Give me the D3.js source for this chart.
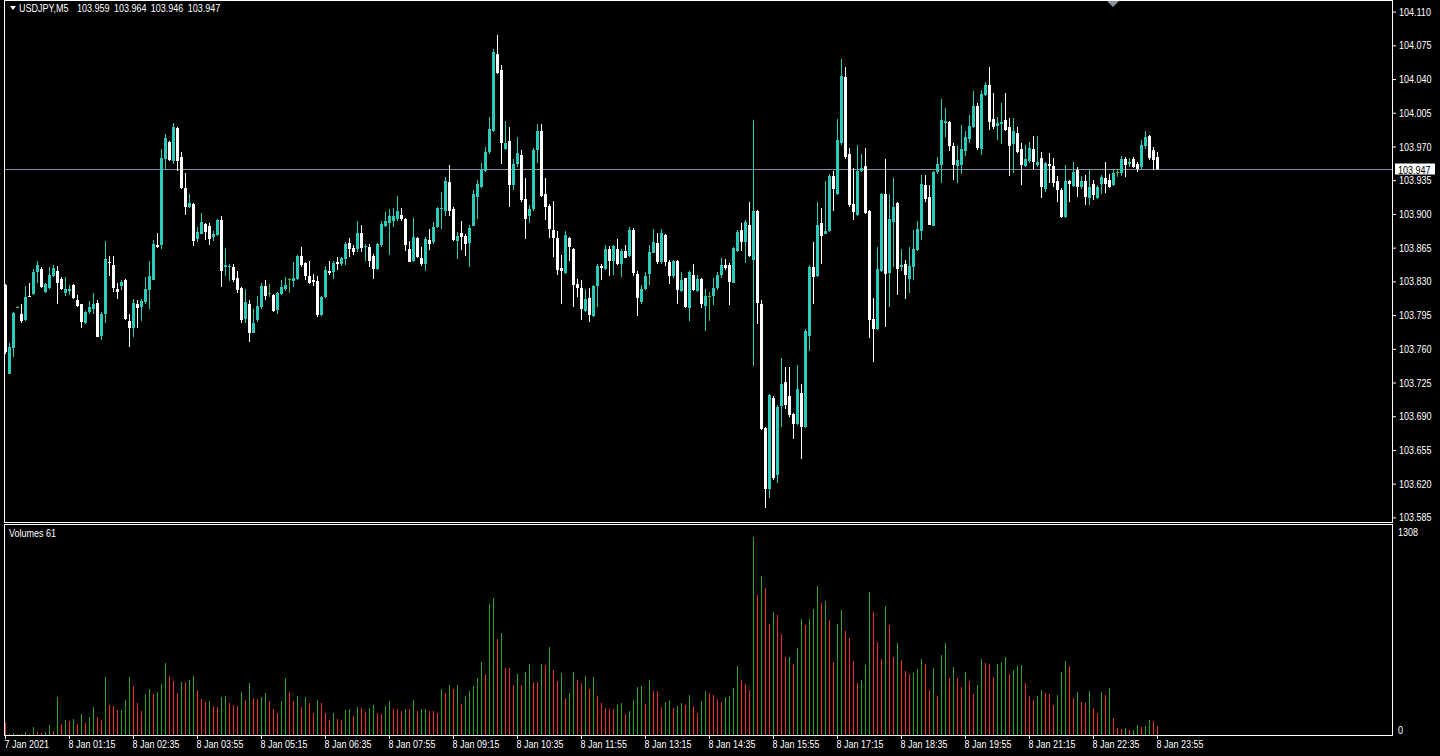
<!DOCTYPE html>
<meta charset="utf-8">
<style>
body { margin: 0; background: #000; }
svg { display: block; }
text { font-family: "Liberation Sans", Arial, sans-serif; font-size: 11px; fill: #fff; }
.tick line { stroke: #fff; }
</style>
<body>
<script src="https://d3js.org/d3.v7.min.js"></script>
<script>

// USDJPY M5, one bar per 5 minutes from 7 Jan 23:55 to 8 Jan 23:55
const symbol = "USDJPY,M5";

const open = [
103.826,103.734,103.761,103.803,103.796,103.790,103.815,103.817,103.840,103.843,
103.819,103.823,103.836,103.841,103.832,103.818,103.820,103.826,103.811,103.806,
103.787,103.798,103.802,103.808,103.773,103.796,103.850,103.847,103.822,103.825,
103.831,103.789,103.782,103.807,103.804,103.808,103.821,103.832,103.868,103.868,
103.957,103.975,103.955,103.989,103.959,103.927,103.907,103.910,103.874,103.880,
103.890,103.887,103.876,103.878,103.894,103.845,103.845,103.845,103.834,103.823,
103.791,103.807,103.777,103.789,103.803,103.825,103.818,103.816,103.800,103.817,
103.822,103.832,103.830,103.832,103.856,103.849,103.836,103.831,103.830,103.795,
103.814,103.841,103.840,103.850,103.848,103.853,103.870,103.865,103.863,103.880,
103.866,103.866,103.856,103.843,103.868,103.888,103.891,103.893,103.895,103.899,
103.895,103.864,103.851,103.875,103.854,103.848,103.873,103.870,103.886,103.905,
103.903,103.933,103.905,103.872,103.880,103.877,103.869,103.888,103.918,103.928,
103.944,103.964,103.986,104.066,104.049,103.968,103.976,103.930,103.952,103.961,
103.916,103.898,103.905,103.966,103.986,103.921,103.908,103.883,103.875,103.844,
103.839,103.875,103.864,103.827,103.823,103.800,103.813,103.794,103.825,103.846,
103.843,103.864,103.851,103.864,103.848,103.862,103.856,103.883,103.838,103.809,
103.822,103.837,103.860,103.870,103.850,103.878,103.850,103.835,103.851,103.820,
103.833,103.803,103.837,103.820,103.832,103.805,103.815,103.815,103.823,103.837,
103.847,103.847,103.829,103.861,103.883,103.871,103.888,103.852,103.903,103.807,
103.678,103.614,103.709,103.629,103.700,103.726,103.711,103.692,103.682,103.714,
103.678,103.773,103.845,103.836,103.891,103.879,103.882,103.939,103.921,103.973,
104.042,103.962,103.910,103.899,103.945,103.950,103.903,103.791,103.781,103.841,
103.921,103.839,103.891,103.911,103.845,103.848,103.832,103.845,103.862,103.882,
103.930,103.918,103.888,103.944,103.950,103.994,103.995,103.970,103.950,103.950,
103.965,103.977,103.990,104.012,103.967,104.024,104.034,103.999,103.991,103.993,
103.997,103.990,103.972,103.984,103.967,103.950,103.955,103.967,103.951,103.958,
103.926,103.952,103.950,103.934,103.925,103.897,103.934,103.929,103.946,103.928,
103.934,103.917,103.931,103.917,103.931,103.937,103.935,103.930,103.943,103.942,
103.957,103.952,103.957,103.952,103.949,103.971,103.981,103.966,103.959
];

const high = [
103.827,103.766,103.798,103.804,103.807,103.825,103.828,103.843,103.851,103.845,
103.828,103.845,103.847,103.846,103.835,103.835,103.826,103.827,103.816,103.807,
103.799,103.810,103.818,103.811,103.798,103.872,103.856,103.856,103.828,103.831,
103.832,103.796,103.812,103.811,103.812,103.835,103.851,103.873,103.880,103.967,
103.983,103.976,103.994,103.990,103.964,103.942,103.921,103.911,103.886,103.901,
103.891,103.891,103.882,103.895,103.898,103.865,103.848,103.848,103.841,103.824,
103.822,103.811,103.801,103.815,103.828,103.831,103.827,103.817,103.819,103.831,
103.835,103.833,103.850,103.857,103.866,103.850,103.851,103.838,103.836,103.815,
103.846,103.851,103.851,103.855,103.855,103.871,103.875,103.868,103.893,103.888,
103.869,103.869,103.858,103.870,103.893,103.902,103.905,103.906,103.919,103.906,
103.896,103.872,103.896,103.876,103.866,103.876,103.884,103.892,103.907,103.923,
103.938,103.951,103.907,103.881,103.893,103.879,103.888,103.925,103.935,103.953,
103.969,104.001,104.071,104.086,104.055,103.996,103.990,103.957,103.980,103.966,
103.937,103.909,103.968,103.993,103.993,103.937,103.910,103.913,103.882,103.857,
103.882,103.876,103.865,103.832,103.831,103.822,103.823,103.826,103.848,103.848,
103.868,103.867,103.868,103.874,103.864,103.868,103.886,103.885,103.841,103.826,
103.840,103.868,103.884,103.880,103.884,103.879,103.852,103.852,103.852,103.840,
103.834,103.841,103.848,103.837,103.833,103.822,103.819,103.834,103.840,103.854,
103.853,103.849,103.866,103.883,103.891,103.894,103.912,103.998,103.904,103.811,
103.679,103.713,103.711,103.702,103.750,103.741,103.741,103.693,103.743,103.723,
103.781,103.847,103.871,103.912,103.906,103.934,103.941,103.945,103.999,104.061,
104.052,103.968,103.948,103.972,103.962,103.968,103.904,103.813,103.866,103.922,
103.957,103.921,103.937,103.912,103.864,103.852,103.866,103.883,103.893,103.940,
103.940,103.930,103.945,103.959,104.019,104.010,103.996,103.974,103.970,103.992,
103.986,104.003,104.028,104.015,104.029,104.037,104.053,104.026,104.001,104.015,
104.026,104.000,104.000,103.990,103.974,103.972,103.975,103.981,103.981,103.964,
103.954,103.963,103.958,103.939,103.927,103.951,103.935,103.954,103.949,103.939,
103.940,103.947,103.935,103.930,103.940,103.954,103.941,103.947,103.947,103.960,
103.959,103.958,103.959,103.954,103.977,103.986,103.982,103.969,103.964
];

const low = [
103.755,103.734,103.751,103.802,103.787,103.789,103.814,103.816,103.828,103.823,
103.818,103.822,103.835,103.806,103.821,103.815,103.816,103.812,103.803,103.782,
103.786,103.796,103.796,103.772,103.769,103.787,103.836,103.819,103.812,103.821,
103.790,103.762,103.772,103.782,103.789,103.807,103.801,103.831,103.865,103.864,
103.947,103.955,103.952,103.945,103.926,103.899,103.906,103.867,103.871,103.879,
103.873,103.868,103.872,103.877,103.824,103.836,103.830,103.829,103.818,103.787,
103.787,103.767,103.776,103.788,103.801,103.811,103.814,103.798,103.796,103.816,
103.820,103.818,103.824,103.831,103.845,103.831,103.827,103.825,103.793,103.794,
103.813,103.837,103.832,103.842,103.846,103.847,103.855,103.857,103.860,103.860,
103.851,103.845,103.832,103.842,103.866,103.886,103.857,103.886,103.893,103.893,
103.862,103.850,103.850,103.854,103.846,103.841,103.863,103.869,103.885,103.884,
103.898,103.898,103.872,103.853,103.863,103.856,103.845,103.887,103.895,103.927,
103.943,103.962,103.985,104.045,103.952,103.966,103.907,103.925,103.949,103.912,
103.874,103.891,103.903,103.953,103.918,103.894,103.875,103.855,103.837,103.807,
103.838,103.851,103.803,103.814,103.790,103.798,103.788,103.793,103.803,103.831,
103.842,103.836,103.837,103.847,103.835,103.854,103.855,103.836,103.794,103.806,
103.821,103.826,103.859,103.848,103.848,103.846,103.827,103.834,103.807,103.819,
103.802,103.789,103.820,103.819,103.802,103.778,103.789,103.805,103.821,103.833,
103.842,103.805,103.828,103.860,103.861,103.849,103.855,103.742,103.786,103.676,
103.595,103.605,103.624,103.621,103.679,103.698,103.689,103.666,103.681,103.646,
103.678,103.758,103.807,103.835,103.848,103.879,103.881,103.903,103.920,103.972,
103.957,103.907,103.894,103.898,103.944,103.900,103.771,103.746,103.780,103.840,
103.783,103.803,103.845,103.816,103.841,103.812,103.818,103.831,103.861,103.873,
103.912,103.888,103.887,103.941,103.932,103.980,103.965,103.935,103.932,103.941,
103.960,103.974,103.989,103.966,103.961,104.022,103.987,103.988,103.977,103.973,
103.986,103.939,103.942,103.963,103.930,103.949,103.953,103.947,103.949,103.917,
103.923,103.932,103.928,103.912,103.896,103.896,103.912,103.928,103.918,103.926,
103.909,103.909,103.914,103.915,103.921,103.922,103.927,103.929,103.938,103.939,
103.938,103.949,103.948,103.944,103.947,103.967,103.956,103.946,103.946
];

const close = [
103.756,103.762,103.797,103.803,103.789,103.814,103.814,103.840,103.847,103.824,
103.827,103.837,103.844,103.829,103.822,103.822,103.822,103.813,103.805,103.787,
103.798,103.803,103.807,103.773,103.796,103.853,103.849,103.823,103.819,103.829,
103.791,103.782,103.808,103.803,103.810,103.822,103.836,103.869,103.866,103.958,
103.979,103.956,103.990,103.955,103.927,103.907,103.911,103.872,103.881,103.892,
103.882,103.874,103.879,103.894,103.841,103.847,103.846,103.831,103.822,103.790,
103.809,103.777,103.787,103.804,103.825,103.815,103.818,103.799,103.818,103.824,
103.826,103.832,103.833,103.856,103.847,103.835,103.829,103.829,103.795,103.814,
103.842,103.839,103.849,103.848,103.854,103.869,103.864,103.861,103.880,103.864,
103.867,103.851,103.843,103.869,103.890,103.893,103.898,103.898,103.903,103.895,
103.868,103.851,103.876,103.855,103.848,103.874,103.869,103.886,103.906,103.906,
103.934,103.903,103.873,103.877,103.876,103.869,103.885,103.921,103.931,103.946,
103.964,103.988,104.068,104.046,103.973,103.974,103.930,103.952,103.963,103.914,
103.895,103.905,103.966,103.986,103.919,103.908,103.884,103.875,103.842,103.841,
103.878,103.866,103.827,103.823,103.801,103.812,103.795,103.825,103.846,103.844,
103.864,103.852,103.867,103.848,103.861,103.855,103.883,103.838,103.813,103.822,
103.836,103.860,103.871,103.850,103.880,103.850,103.835,103.851,103.821,103.831,
103.803,103.840,103.821,103.832,103.806,103.815,103.815,103.823,103.837,103.847,
103.844,103.829,103.865,103.881,103.871,103.892,103.856,103.903,103.807,103.677,
103.615,103.712,103.626,103.700,103.723,103.702,103.691,103.682,103.718,103.679,
103.778,103.845,103.835,103.889,103.877,103.882,103.939,103.925,103.977,104.043,
103.959,103.909,103.902,103.945,103.948,103.901,103.790,103.781,103.843,103.921,
103.838,103.895,103.907,103.843,103.847,103.837,103.846,103.864,103.884,103.931,
103.915,103.889,103.944,103.952,103.997,103.996,103.970,103.950,103.956,103.967,
103.980,103.991,104.012,103.968,104.024,104.034,103.996,103.991,103.994,103.995,
103.987,103.970,103.986,103.964,103.950,103.957,103.968,103.953,103.954,103.928,
103.953,103.950,103.932,103.925,103.897,103.934,103.931,103.944,103.928,103.934,
103.917,103.928,103.920,103.928,103.938,103.931,103.928,103.942,103.943,103.957,
103.951,103.954,103.949,103.947,103.972,103.980,103.958,103.956,103.947
];

const volume = [
86,5,13,4,7,20,9,53,20,15,20,68,26,251,73,99,92,106,73,139,
79,119,185,119,99,383,198,192,165,168,231,383,324,211,159,271,304,271,284,337,
476,390,357,277,350,348,363,390,297,238,218,225,192,185,251,258,211,198,192,284,
231,343,244,238,251,277,225,172,145,225,376,284,225,258,185,251,211,145,231,211,
145,99,145,106,99,165,172,125,185,178,152,178,198,145,139,192,225,172,170,159,
172,170,231,159,172,174,159,157,145,304,277,330,304,330,205,258,291,324,376,482,
403,865,905,634,674,443,440,330,403,330,416,469,350,348,469,462,581,429,357,409,
244,277,416,363,343,390,304,383,258,211,178,172,170,198,211,139,159,231,317,324,
205,363,291,290,185,218,231,178,192,211,198,264,192,145,225,291,277,264,238,218,
251,258,310,456,363,337,297,1308,925,1050,971,733,812,793,667,515,517,469,575,766,
727,766,832,984,872,885,760,482,733,826,687,641,489,343,363,462,945,812,614,502,
852,727,515,608,495,423,400,410,436,502,469,297,443,258,528,608,376,449,376,317,
416,357,271,330,502,476,469,383,469,482,515,403,429,456,462,343,258,231,258,297,
277,271,198,264,416,489,456,244,284,218,211,291,178,145,284,264,310,112,46,40,
46,33,35,66,53,59,99,92,61
];

const priceTicks = [104.110, 104.075, 104.040, 104.005, 103.970, 103.935, 103.900, 103.865,
                    103.830, 103.795, 103.760, 103.725, 103.690, 103.655, 103.620, 103.585];
const volumeTicks = [0, 1308];
const timeTickIdx = [0, 16, 32, 48, 64, 80, 96, 112, 128, 144, 160, 176, 192, 208, 224, 240, 256, 272, 288];
const timeTickLabels = ["7 Jan 2021", "8 Jan 01:15", "8 Jan 02:35", "8 Jan 03:55", "8 Jan 05:15",
  "8 Jan 06:35", "8 Jan 07:55", "8 Jan 09:15", "8 Jan 10:35", "8 Jan 11:55", "8 Jan 13:15",
  "8 Jan 14:35", "8 Jan 15:55", "8 Jan 17:15", "8 Jan 18:35", "8 Jan 19:55", "8 Jan 21:15",
  "8 Jan 22:35", "8 Jan 23:55"];

const W = 1440, H = 756;
const left = 4, right = 1392;
const SX = 0.82;   // horizontal squeeze, the terminal font is narrow
const bull = "#2ccab8", bear = "#ffffff", dojiCol = "#3fb83f";
const volUp = "#2aa52a", volDown = "#ec2e2e";

var svg = d3.select("body").append("svg")
    .attr("width", W)
    .attr("height", H)
    .style("background", "#000");

var x = d3.scaleLinear().domain([0, 288]).range([5, 1157]);
var y = d3.scaleLinear().domain([103.585, 104.110]).range([517.4, 11.6]);
var vy = d3.scaleLinear().domain([0, 1308]).range([735, 537]);

const idx = d3.range(open.length);
const kind = i => open[i] === close[i] ? "doji" : (close[i] > open[i] ? "bull" : "bear");
const col = { bull: bull, bear: bear, doji: dojiCol };

function squeeze(sel) {
  sel.attr("transform", "scale(" + SX + ",1)")
     .attr("x", function() { return (+d3.select(this).attr("x") || 0) / SX; });
}

function label(px, py, str) {
  return svg.append("g")
      .attr("transform", "translate(" + px + "," + py + ") scale(" + SX + ",1)")
    .append("text")
      .text(str);
}

// pane borders
svg.append("rect")
    .attr("x", left + 0.5).attr("y", 0.5)
    .attr("width", right - left).attr("height", 522)
    .attr("fill", "none").attr("stroke", "#fff");
svg.append("rect")
    .attr("x", left + 0.5).attr("y", 524.5)
    .attr("width", right - left).attr("height", 211)
    .attr("fill", "none").attr("stroke", "#fff");

// bid line
const last = open.length - 1;
const bidY = Math.round(y(close[last])) + 0.5;
svg.append("line")
    .attr("x1", left + 1).attr("x2", right)
    .attr("y1", bidY).attr("y2", bidY)
    .attr("stroke", "#8491a0");

// candles
const gc = svg.append("g").attr("shape-rendering", "crispEdges");
gc.selectAll("line").data(idx).join("line")
    .attr("x1", i => x(i) + 0.5).attr("x2", i => x(i) + 0.5)
    .attr("y1", i => y(high[i])).attr("y2", i => y(low[i]))
    .attr("stroke", i => col[kind(i)]);
gc.selectAll("rect").data(idx).join("rect")
    .attr("x", i => x(i) - 1)
    .attr("width", 3)
    .attr("y", i => Math.round(y(Math.max(open[i], close[i]))))
    .attr("height", i => Math.max(1, Math.round(Math.abs(y(open[i]) - y(close[i])))))
    .attr("fill", i => col[kind(i)]);

// volumes (green when volume grew against the previous bar)
svg.append("g").attr("shape-rendering", "crispEdges")
  .selectAll("line").data(idx).join("line")
    .attr("x1", i => x(i) + 0.5).attr("x2", i => x(i) + 0.5)
    .attr("y1", vy(0)).attr("y2", i => vy(volume[i]))
    .attr("stroke", i => (i > 0 && volume[i] > volume[i - 1]) ? volUp : volDown);

// price axis
var ya = svg.append("g")
    .attr("transform", "translate(" + (right + 1) + ",0)")
    .call(d3.axisRight(y).tickValues(priceTicks).tickSize(3).tickPadding(3)
      .tickFormat(d3.format(".3f")));
ya.select(".domain").remove();
ya.selectAll("text").call(squeeze);

// volume axis
var va = svg.append("g")
    .attr("transform", "translate(" + (right + 1) + ",0)")
    .call(d3.axisRight(vy).tickValues(volumeTicks).tickSize(0).tickPadding(5)
      .tickFormat(d3.format("d")));
va.select(".domain").remove();
va.selectAll("text").attr("dy", "-1.5px").call(squeeze);

// time axis
var xa = svg.append("g")
    .attr("transform", "translate(0,735)")
    .call(d3.axisBottom(x).tickValues(timeTickIdx).tickSize(4).tickPadding(1)
      .tickFormat((d, k) => timeTickLabels[k]));
xa.select(".domain").remove();
xa.selectAll("text").attr("text-anchor", "start").attr("x", -1).call(squeeze);

// bid label on the price scale
svg.append("rect")
    .attr("x", right + 3).attr("y", bidY - 6)
    .attr("width", 40).attr("height", 11)
    .attr("fill", "#fff");
label(right + 6, bidY + 4, close[last].toFixed(3)).style("fill", "#000");

// header
svg.append("path").attr("d", "M10,6L16,6L13,10Z").attr("fill", "#fff");
label(19, 12, symbol + "  " + [open[last], high[last], low[last], close[last]].map(v => v.toFixed(3)).join(" "))
    .attr("xml:space", "preserve")
    .style("word-spacing", "2.2px");

label(9, 537, "Volumes " + volume[last]);

// chart shift marker
svg.append("path").attr("d", "M1107,1L1119,1L1113,7Z").attr("fill", "#8a94a2");

</script>
</body>
